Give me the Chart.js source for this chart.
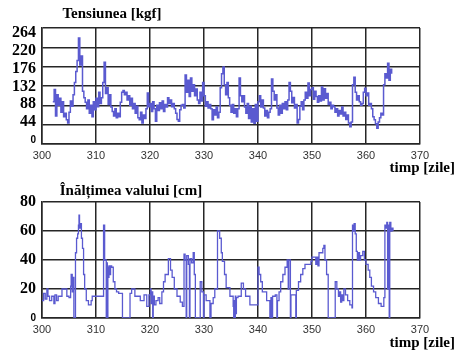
<!DOCTYPE html>
<html>
<head>
<meta charset="utf-8">
<script src="https://cdn.jsdelivr.net/npm/chart.js@4.4.0/dist/chart.umd.min.js"></script>
<style>
body { margin: 0; background: #fff; }
#wrap { position: relative; width: 457px; height: 356px; }
canvas { position: absolute; left: 0; }
#tensionChart { top: 0; }
#waveChart { top: 178px; }
</style>
</head>
<body>
<div id="wrap">
	<canvas id="tensionChart" width="457" height="178"></canvas>
	<canvas id="waveChart" width="457" height="178"></canvas>
</div>
<script>
// x axis (days)
var dayTicks = [300, 310, 320, 330, 340, 350, 360, 370];

// Tensiunea [kgf] - 4 readings a day, from day 302
var tensionStart = 302;
var tensionStep = 0.25;
var tensionValues = [
	96, 124, 64, 112,    // 302
	88, 104, 72, 96,
	62, 70, 55, 48,
	72, 98, 86, 112,
	140, 165, 190, 241,
	180, 200, 120, 105,
	95, 80, 100, 70,
	88, 62, 96, 78,
	104, 85, 118, 92,    // 310
	105, 140, 186, 115,
	128, 90, 112, 84,
	74, 64, 80, 60,
	70, 62, 95, 118,
	122, 112, 118, 100,
	110, 88, 104, 80,
	92, 70, 86, 60,
	55, 72, 48, 66,
	58, 80, 116, 85,
	92, 74, 96, 80,      // 320
	52, 88, 76, 94,
	80, 98, 74, 90,
	84, 105, 92, 100,
	85, 92, 80, 70,
	56, 52, 78, 88,
	90, 82, 157, 118,
	145, 108, 150, 120,
	135, 110, 125, 100,
	92, 118, 98, 140,
	110, 86, 96, 82,     // 330
	90, 80, 55, 78,
	66, 84, 60, 72,
	128, 160, 175, 135,
	112, 140, 105, 88,
	72, 90, 70, 80,
	62, 80, 150, 110,
	96, 110, 84, 70,
	92, 58, 86, 50,
	80, 47, 90, 52,
	96, 110, 84, 100,    // 340
	82, 64, 76, 60,
	72, 80, 148, 120,
	100, 112, 82, 66,
	88, 70, 92, 80,
	96, 78, 100, 140,
	120, 94, 106, 82,
	90, 48, 56, 86,
	96, 78, 100, 118,
	104, 139, 110, 124,
	128, 102, 120, 108,  // 350
	95, 110, 98, 130,
	100, 126, 104, 115,
	90, 95, 80, 88,
	85, 72, 80, 64,
	76, 68, 84, 64,
	72, 56, 66, 48,
	39, 50, 135, 152,
	118, 100, 110, 96,
	88, 92, 118, 127,
	110, 116, 88, 92,    // 360
	80, 62, 55, 46,
	36, 50, 60, 70,
	66, 135, 160, 150,
	184, 145, 170, 160
];
var tensionTicks = [0, 44, 88, 132, 176, 220, 264];

// Inaltimea valului [cm] - day when the level changes and the new level
var waveDays = [
	300.0, 300.3, 300.6, 300.9, 301.1, 301.4, 301.8, 302.2, 302.4, 302.7,
	303.0, 303.7, 304.6, 305.0, 305.3, 305.4, 305.6, 305.7, 305.9, 306.2,
	306.4, 306.6, 306.75, 306.85, 306.95, 307.1, 307.3, 307.5, 307.7, 307.9,
	308.2, 308.6, 309.1, 309.3, 311.4, 311.6, 311.9, 312.0, 312.1, 312.2,
	312.3, 312.4, 312.6, 312.7, 312.9, 313.2, 313.5, 313.8, 314.2, 314.9,
	316.3, 316.6, 317.2, 318.2, 318.9, 319.4, 319.8, 320.1, 320.2, 320.35,
	320.5, 320.6, 320.8, 321.1, 321.5, 321.8, 322.2, 322.5, 322.8, 323.4,
	323.8, 324.1, 324.5, 325.0, 325.6, 326.0, 326.3, 326.5, 326.7, 326.8,
	327.1, 327.3, 327.4, 327.7, 328.0, 328.2, 328.4, 329.3, 329.6, 329.9,
	330.0, 330.4, 331.1, 331.3, 331.7, 332.0, 332.5, 332.9, 333.2, 333.4,
	333.8, 334.1, 334.8, 335.4, 335.5, 335.6, 335.7, 335.8, 335.9, 336.0,
	336.3, 336.9, 337.3, 337.7, 338.5, 340.0, 340.2, 340.5, 340.8, 341.6,
	342.2, 342.4, 342.5, 342.7, 343.2, 343.5, 343.6, 343.9, 344.2, 344.6,
	345.0, 345.4, 345.6, 345.7, 346.0, 346.1, 347.0, 347.1, 347.5, 347.9,
	348.3, 348.7, 349.8, 350.0, 350.7, 350.9, 351.1, 351.3, 352.0, 352.2,
	352.4, 352.7, 353.0, 354.3, 354.6, 354.9, 355.1, 355.3, 355.5, 355.7,
	355.9, 356.2, 356.6, 357.0, 357.4, 357.5, 357.7, 357.8, 358.0, 358.2,
	358.4, 358.6, 358.8, 359.0, 359.4, 359.7, 360.0, 360.4, 360.7, 361.0,
	361.4, 361.8, 362.3, 362.8, 363.3, 363.5, 363.7, 363.85, 364.0, 364.1,
	364.3, 364.4, 364.6, 364.8, 365.0
];
var waveHeights = [
	12, 17, 13, 20, 15, 12, 15, 10, 16, 12,
	15, 20, 15, 14, 22, 30, 18, 28, 0, 45,
	55, 58, 64, 71, 62, 65, 55, 48, 30, 20,
	12, 9, 12, 15, 64, 40, 0, 38, 0, 35,
	28, 36, 30, 36, 35, 25, 20, 18, 17, 0,
	17, 20, 15, 12, 16, 8, 16, 20, 10, 18,
	0, 15, 9, 12, 14, 10, 18, 25, 30, 41,
	33, 28, 20, 15, 11, 8, 44, 40, 0, 43,
	37, 0, 41, 38, 45, 30, 0, 25, 18, 0,
	16, 12, 0, 10, 14, 20, 60, 55, 45, 39,
	30, 21, 15, 8, 0, 12, 0, 15, 3, 14,
	15, 24, 20, 15, 9, 35, 30, 25, 18, 12,
	0, 14, 0, 15, 16, 0, 12, 18, 25, 30,
	35, 40, 20, 40, 0, 16, 0, 19, 25, 30,
	34, 37, 39, 42, 37, 42, 36, 45, 48, 50,
	40, 30, 0, 25, 20, 15, 18, 11, 16, 12,
	20, 16, 12, 9, 7, 64, 60, 65, 58, 46,
	40, 45, 40, 43, 46, 40, 37, 33, 28, 22,
	18, 14, 10, 8, 14, 64, 62, 66, 20, 64,
	0, 66, 60, 62, 60
];
var waveTicks = [0, 20, 40, 60, 80];

var lineColor = '#5a5ad0';
var gridColor = '#262626';

// titles and "timp [zile]"
var textPlugin = {
	id: 'texts',
	afterDraw: function (chart, args, opts) {
		var ctx = chart.ctx;
		ctx.save();
		ctx.fillStyle = '#000';
		ctx.font = 'bold 15px "Liberation Serif"';
		ctx.textBaseline = 'middle';
		ctx.textAlign = 'center';
		ctx.fillText(opts.title, opts.titleX, opts.titleY);
		ctx.textAlign = 'right';
		ctx.fillText('timp [zile]', 455, opts.unitY);
		ctx.restore();
	}
};

function tickFont(c) {
	if (c.tick && c.tick.value === 0) {
		return { family: 'Liberation Sans', size: 10, weight: 'bold' };
	}
	return { family: 'Liberation Serif', size: 16, weight: 'bold' };
}

function xAxis(height) {
	return {
		type: 'linear',
		min: 300,
		max: 370,
		afterBuildTicks: function (axis) {
			axis.ticks = dayTicks.map(function (v) { return { value: v }; });
		},
		afterFit: function (axis) { axis.height = height; },
		grid: { color: gridColor, lineWidth: 1.5, drawTicks: false },
		border: { color: gridColor, width: 1.5 },
		ticks: {
			color: '#333',
			padding: 5,
			maxRotation: 0,
			autoSkip: false,
			font: { family: 'Liberation Sans', size: 11 }
		}
	};
}

// top chart
var tensionPoints = tensionValues.map(function (v, i) {
	return { x: tensionStart + i * tensionStep, y: v };
});

new Chart(document.getElementById('tensionChart'), {
	type: 'line',
	data: {
		datasets: [{
			data: tensionPoints,
			borderColor: lineColor,
			borderWidth: 1.5,
			pointRadius: 0,
			stepped: true,
			yAxisID: 'y'
		}]
	},
	options: {
		responsive: false,
		animation: false,
		layout: { padding: { top: 28, right: 37, left: 0, bottom: 0 } },
		plugins: {
			legend: { display: false },
			tooltip: { enabled: false },
			texts: { title: 'Tensiunea [kgf]', titleX: 112, titleY: 14, unitY: 168 }
		},
		scales: {
			x: xAxis(34),
			y: {
				min: 0,
				max: 264,
				afterBuildTicks: function (axis) {
					axis.ticks = tensionTicks.map(function (v) { return { value: v }; });
				},
				afterFit: function (axis) { axis.width = 0; },
				grid: { color: gridColor, lineWidth: 1.5, drawTicks: false },
				border: { color: gridColor, width: 1.5 },
				ticks: { display: false }
			},
			// labels of the scanned figure sit a bit closer together than the grid
			yl: {
				position: 'left',
				min: -10.4,
				max: 276.4,
				afterBuildTicks: function (axis) {
					axis.ticks = tensionTicks.map(function (v) { return { value: v }; });
				},
				afterFit: function (axis) { axis.width = 42; },
				grid: { display: false, drawTicks: false },
				border: { display: false },
				ticks: { color: '#000', padding: 6, autoSkip: false, font: tickFont }
			}
		}
	},
	plugins: [textPlugin]
});

// bottom chart
var wavePoints = waveDays.map(function (d, i) {
	return { x: d, y: waveHeights[i] };
});

new Chart(document.getElementById('waveChart'), {
	type: 'line',
	data: {
		datasets: [{
			data: wavePoints,
			borderColor: lineColor,
			borderWidth: 1.3,
			pointRadius: 0,
			stepped: true
		}]
	},
	options: {
		responsive: false,
		animation: false,
		layout: { padding: { top: 24, right: 37, left: 0, bottom: 0 } },
		plugins: {
			legend: { display: false },
			tooltip: { enabled: false },
			texts: { title: 'Înălțimea valului [cm]', titleX: 131, titleY: 13, unitY: 165 }
		},
		scales: {
			x: xAxis(38),
			y: {
				min: 0,
				max: 80,
				afterBuildTicks: function (axis) {
					axis.ticks = waveTicks.map(function (v) { return { value: v }; });
				},
				afterFit: function (axis) { axis.width = 42; },
				grid: { color: gridColor, lineWidth: 1.5, drawTicks: false },
				border: { color: gridColor, width: 1.5 },
				ticks: { color: '#000', padding: 6, autoSkip: false, font: tickFont }
			}
		}
	},
	plugins: [textPlugin]
});
</script>
</body>
</html>
